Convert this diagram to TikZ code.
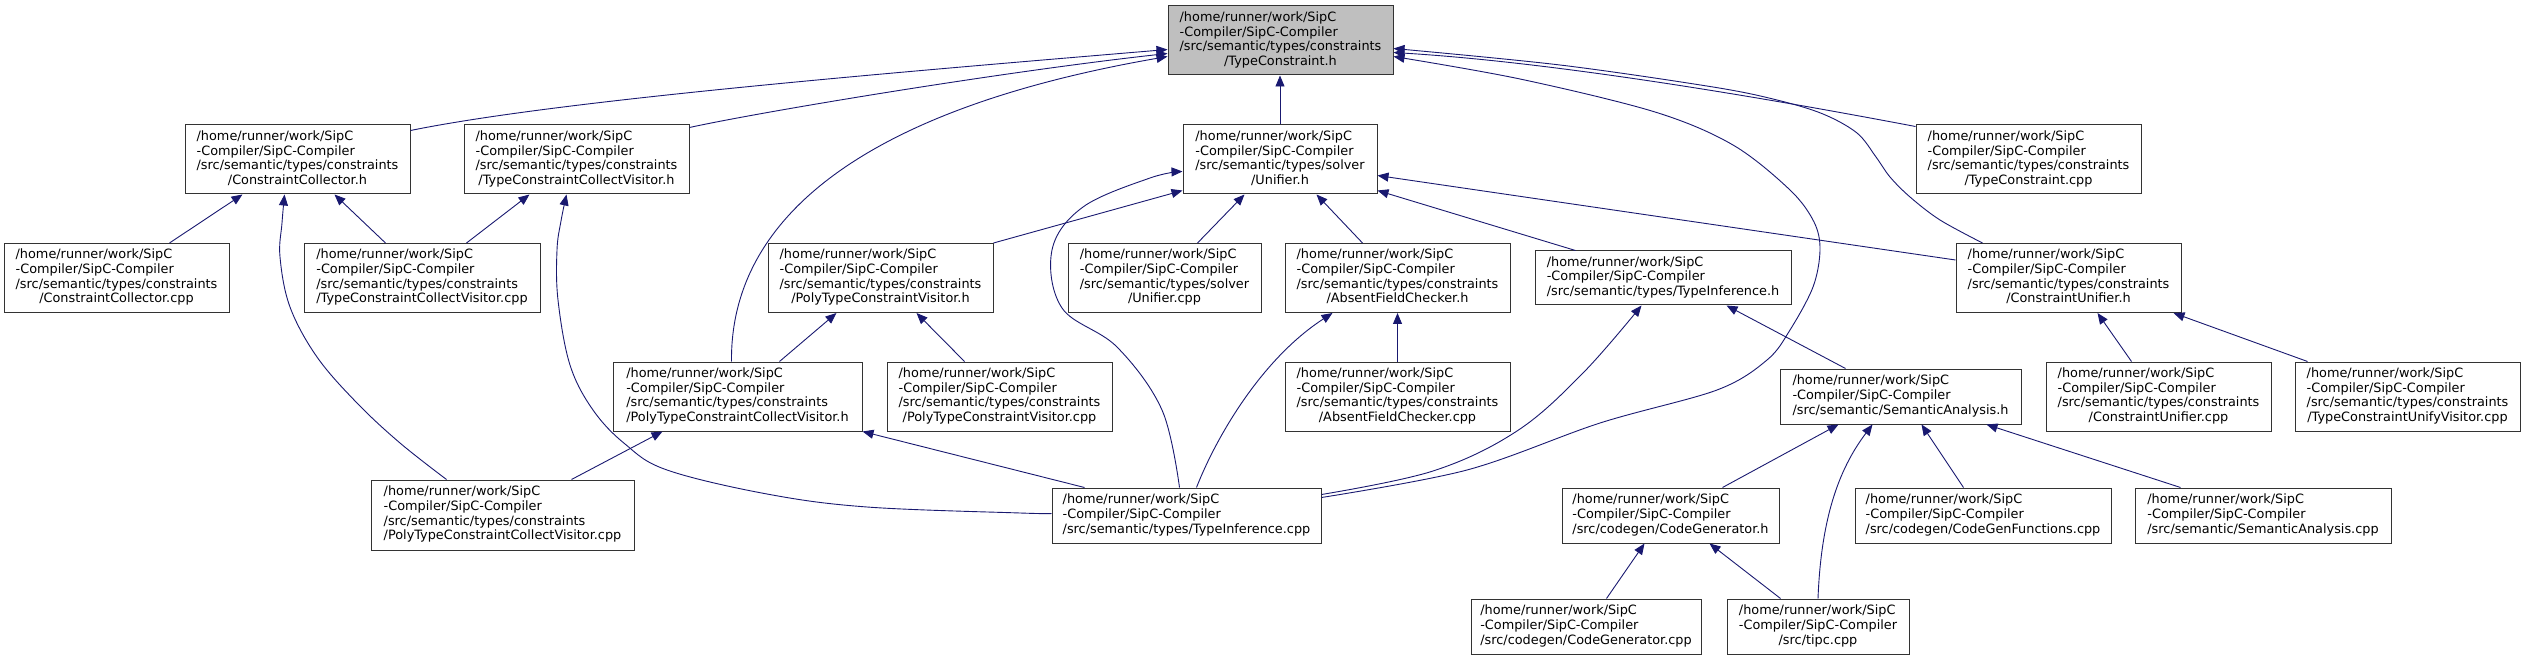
\documentclass[tikz,border=0pt]{standalone}
\usepackage{fontspec}
\newfontfamily\dvs{DejaVu Sans}
\usetikzlibrary{arrows.meta,calc}
\definecolor{navy}{HTML}{191970}
\definecolor{boxgray}{HTML}{BFBFBF}
\definecolor{bord}{HTML}{333333}
\newcommand{\hpa}{/home/runner/work/SipC}
\newcommand{\hpb}{-Compiler/SipC-Compiler}
\newcommand{\boxfour}[2]{\begin{tabular}{@{}l@{}}\hpa\\\hpb\\#1\\\multicolumn{1}{@{}c@{}}{#2}\end{tabular}}
\newcommand{\boxthree}[1]{\begin{tabular}{@{}l@{}}\hpa\\\hpb\\\multicolumn{1}{@{}c@{}}{#1}\end{tabular}}
\newcommand{\scon}{/src/semantic/types/constraints}
\newcommand{\ssol}{/src/semantic/types/solver}
\tikzset{
  box/.style={draw=bord, line width=1pt, fill=white, inner sep=0pt, text=black,
    font=\dvs\fontsize{12.85}{14.7}\selectfont, minimum height=69pt},
  boxs/.style={box, minimum height=55pt},
  edge/.style={draw=navy, line width=0.9pt, -{Triangle[length=11pt,width=9pt]}},
}
\begin{document}
\begin{tikzpicture}[x=1pt,y=-1pt]
\useasboundingbox (0,0) rectangle (2525,660);
% nodes
\node[box, fill=boxgray, minimum width=225pt] (tch) at (1280.5,40.5) {\boxfour{\scon}{/TypeConstraint.h}};
\node[box, minimum width=225pt] (cch) at (297.5,159.5) {\boxfour{\scon}{/ConstraintCollector.h}};
\node[box, minimum width=225pt] (tccvh) at (576.5,159.5) {\boxfour{\scon}{/TypeConstraintCollectVisitor.h}};
\node[box, minimum width=194pt] (unh) at (1280,159.5) {\boxfour{\ssol}{/Unifier.h}};
\node[box, minimum width=225pt] (tccpp) at (2028.5,159.5) {\boxfour{\scon}{/TypeConstraint.cpp}};
\node[box, minimum width=225pt] (cccpp) at (116.5,278) {\boxfour{\scon}{/ConstraintCollector.cpp}};
\node[box, minimum width=236pt] (tccvcpp) at (422,278) {\boxfour{\scon}{/TypeConstraintCollectVisitor.cpp}};
\node[box, minimum width=225pt] (ptcvh) at (880.5,278) {\boxfour{\scon}{/PolyTypeConstraintVisitor.h}};
\node[box, minimum width=193pt] (uncpp) at (1164.5,278) {\boxfour{\ssol}{/Unifier.cpp}};
\node[box, minimum width=225pt] (afch) at (1397.5,278) {\boxfour{\scon}{/AbsentFieldChecker.h}};
\node[boxs, minimum width=256pt, minimum height=54pt] (tih) at (1663,278) {\boxthree{/src/semantic/types/TypeInference.h}};
\node[box, minimum width=225pt] (cuh) at (2068.5,278) {\boxfour{\scon}{/ConstraintUnifier.h}};
\node[box, minimum width=249pt] (ptccvh) at (737.5,396.5) {\boxfour{\scon}{/PolyTypeConstraintCollectVisitor.h}};
\node[box, minimum width=225pt] (ptcvcpp) at (999.5,396.5) {\boxfour{\scon}{/PolyTypeConstraintVisitor.cpp}};
\node[box, minimum width=225pt] (afccpp) at (1397.5,396.5) {\boxfour{\scon}{/AbsentFieldChecker.cpp}};
\node[boxs, minimum width=241pt] (sah) at (1900.5,396.5) {\boxthree{/src/semantic/SemanticAnalysis.h}};
\node[box, minimum width=225pt] (cucpp) at (2158.5,396.5) {\boxfour{\scon}{/ConstraintUnifier.cpp}};
\node[box, minimum width=225pt] (tcuvcpp) at (2407.5,396.5) {\boxfour{\scon}{/TypeConstraintUnifyVisitor.cpp}};
\node[box, minimum width=263pt, minimum height=70pt] (ptccvcpp) at (502.5,515) {\boxfour{\scon}{/PolyTypeConstraintCollectVisitor.cpp}};
\node[boxs, minimum width=269pt] (ticpp) at (1186.5,515.5) {\boxthree{/src/semantic/types/TypeInference.cpp}};
\node[boxs, minimum width=217pt] (cgh) at (1670.5,515.5) {\boxthree{/src/codegen/CodeGenerator.h}};
\node[boxs, minimum width=256pt] (cgfcpp) at (1983,515.5) {\boxthree{/src/codegen/CodeGenFunctions.cpp}};
\node[boxs, minimum width=256pt] (sacpp) at (2263,515.5) {\boxthree{/src/semantic/SemanticAnalysis.cpp}};
\node[boxs, minimum width=230pt] (cgcpp) at (1586,626.5) {\boxthree{/src/codegen/CodeGenerator.cpp}};
\node[boxs, minimum width=182pt] (tipc) at (1818,626.5) {\boxthree{/src/tipc.cpp}};

% edges into TypeConstraint.h
\draw[edge] ($(cch.north east)+(0,6)$) .. controls (560,100) and (900,72) .. ($(tch.north west)+(0,44)$);
\draw[edge] ($(tccvh.north east)+(0,3)$) .. controls (760,112) and (1000,72) .. ($(tch.north west)+(0,48)$);
\draw[edge] ($(ptccvh.north west)+(119,0)$) .. controls (730,220) and (860,110) .. ($(tch.north west)+(0,51)$);
\draw[edge] (unh.north) -- (unh.north|-tch.south);
\draw[edge] plot[smooth,tension=0.55] coordinates {($(ticpp.north east)+(0,10)$) (1467,470) (1600,423) (1717,390) (1767,360) (1790,330) (1813,287) (1820,250) (1814,222) (1790,190) (1733,145) (1655,112) (1520,79) ($(tch.north east)+(0,51)$)};
\draw[edge] plot[smooth,tension=0.55] coordinates {($(cuh.north west)+(27,0)$) (1940,220) (1910,197) (1890,177) (1876,157) (1857,133) (1823,114) (1777,100) (1713,87) (1560,65) ($(tch.north east)+(0,43)$)};
\draw[edge] ($(tccpp.north west)+(0,2)$) .. controls (1750,95) and (1550,62) .. ($(tch.north east)+(0,47)$);

% edges into Unifier.h
\draw[edge] (ptcvh.north east) -- ($(unh.south west)+(0,-4)$);
\draw[edge] ($(uncpp.north west)+(130,0)$) -- ($(unh.south west)+(62,0)$);
\draw[edge] ($(afch.north west)+(78,0)$) -- ($(unh.south west)+(134,0)$);
\draw[edge] ($(tih.north west)+(41,0)$) -- ($(unh.south east)+(0,-4)$);
\draw[edge] ($(cuh.north west)+(0,17)$) -- ($(unh.north east)+(0,51)$);
\draw[edge] plot[smooth,tension=0.6] coordinates {($(ticpp.north west)+(128,0)$) (1162,410) (1117,347) (1062,308) (1052,250) (1083,207) (1150,178) ($(unh.north west)+(0,47)$)};

% edges into ConstraintCollector.h
\draw[edge] ($(cccpp.north west)+(166,0)$) -- ($(cch.south west)+(58,0)$);
\draw[edge] ($(tccvcpp.north west)+(82,0)$) -- ($(cch.south west)+(150,0)$);
\draw[edge] plot[smooth,tension=0.6] coordinates {($(ptccvcpp.north west)+(76,0)$) (400,443) (357,403) (317,357) (290,307) (280,257) (282,223) ($(cch.south west)+(100,0)$)};

% edges into TypeConstraintCollectVisitor.h
\draw[edge] ($(tccvcpp.north west)+(163,0)$) -- ($(tccvh.south west)+(66,0)$);
\draw[edge] plot[smooth,tension=0.6] coordinates {($(ticpp.west)+(0,-2)$) (1020,513) (867,507) (767,494) (667,470) (625,444) (593,410) (570,365) (558,300) (557,250) (561,221) ($(tccvh.south west)+(103,0)$)};

% edges into PolyTypeConstraintVisitor.h
\draw[edge] ($(ptccvh.north west)+(167,0)$) -- ($(ptcvh.south west)+(69,0)$);
\draw[edge] ($(ptcvcpp.north west)+(78,0)$) -- ($(ptcvh.south west)+(149,0)$);

% edges into PolyTypeConstraintCollectVisitor.h
\draw[edge] ($(ptccvcpp.north west)+(201,0)$) -- ($(ptccvh.south west)+(50,0)$);
\draw[edge] ($(ticpp.north west)+(33,0)$) -- (ptccvh.south east);

% edges into AbsentFieldChecker.h
\draw[edge] (afccpp.north) -- (afch.south);
\draw[edge] ($(ticpp.north west)+(145,0)$) .. controls (1215,440) and (1260,360) .. ($(afch.south west)+(48,0)$);

% edges into TypeInference.h
\draw[edge] plot[smooth,tension=0.6] coordinates {($(ticpp.north east)+(0,7)$) (1433,471) (1517,431) (1583,373) ($(tih.south west)+(107,0)$)};
\draw[edge] ($(sah.north west)+(66,0)$) -- ($(tih.south west)+(192,0)$);

% edges into ConstraintUnifier.h
\draw[edge] ($(cucpp.north west)+(86,0)$) -- ($(cuh.south west)+(142,0)$);
\draw[edge] ($(tcuvcpp.north west)+(13,0)$) -- ($(cuh.south west)+(218,0)$);

% edges into SemanticAnalysis.h
\draw[edge] ($(cgh.north west)+(161,0)$) -- ($(sah.south west)+(59,0)$);
\draw[edge] (tipc.north) .. controls (1821,520) and (1838,470) .. ($(sah.south west)+(93,0)$);
\draw[edge] ($(cgfcpp.north west)+(109,0)$) -- ($(sah.south west)+(142,0)$);
\draw[edge] ($(sacpp.north west)+(46,0)$) -- ($(sah.south west)+(207,0)$);

% edges into CodeGenerator.h
\draw[edge] ($(cgcpp.north west)+(136,0)$) -- ($(cgh.south west)+(83,0)$);
\draw[edge] ($(tipc.north west)+(54,0)$) -- ($(cgh.south west)+(148,0)$);
\end{tikzpicture}
\end{document}
